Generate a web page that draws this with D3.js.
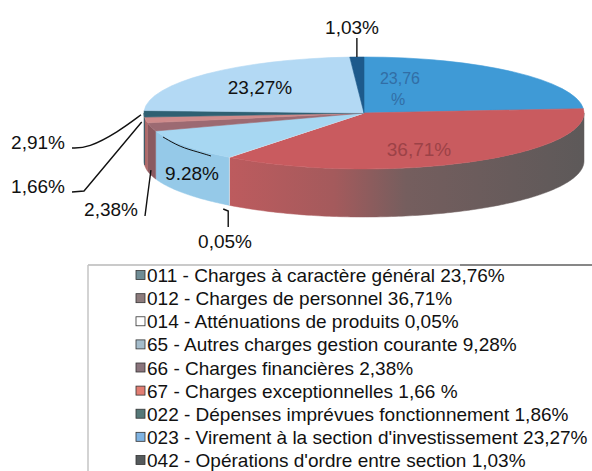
<!DOCTYPE html>
<html>
<head>
<meta charset="utf-8">
<script src="https://cdn.jsdelivr.net/npm/d3@7"></script>
<style>
  html, body { margin: 0; padding: 0; background: #fff; }
  svg { display: block; font-family: "Liberation Sans", Arial, sans-serif; }
</style>
</head>
<body>
<div id="wrapper"></div>
<script>
// chart data
const codes = ["011", "012", "014", "65", "66", "67", "022", "023", "042"];
const names = [
  "Charges à caractère général",
  "Charges de personnel",
  "Atténuations de produits",
  "Autres charges gestion courante",
  "Charges financières",
  "Charges exceptionnelles",
  "Dépenses imprévues fonctionnement",
  "Virement à la section d'investissement",
  "Opérations d'ordre entre section"
];
const values = [23.76, 36.71, 0.05, 9.28, 2.38, 1.66, 1.86, 23.27, 1.03];
const legendValues = ["23,76%", "36,71%", "0,05%", "9,28%", "2,38%", "1,66 %", "1,86%", "23,27%", "1,03%"];
// labels as printed on the pie (some differ from the legend)
const pieLabels = ["23,76\n%", "36,71%", "0,05%", "9.28%", "2,38%", "1,66%", "2,91%", "23,27%", "1,03%"];

const dimensions = { width: 592, height: 471 };
const pie3d = { cx: 364, cy: 113, rx: 220, ry: 56, depth: 48 };

const topColors = ["#3f9ad6", "#c95b5f", "#f4f8fb", "#a7d7f2", "#9c6a72", "#cf8b8b", "#2f6072", "#b3d9f4", "#1d5a8c"];
const wallColors = ["#2f7cb4", "url(#redWall)", "#dde8ee", "#95c9e8", "#8a5a60", "#b06a6a", "#27505f", "#92c0e2", "#174a74"];
const swatchColors = ["#6f8c95", "#8c7b7c", "#ffffff", "#a4bccb", "#8a747c", "#e27d72", "#557878", "#7fb3e2", "#555a5c"];

const svg = d3.select("#wrapper")
  .append("svg")
  .attr("width", dimensions.width)
  .attr("height", dimensions.height);

const defs = svg.append("defs");
const grad = defs.append("linearGradient")
  .attr("id", "redWall")
  .attr("gradientUnits", "userSpaceOnUse")
  .attr("x1", 228).attr("x2", 584).attr("y1", 0).attr("y2", 0);
grad.selectAll("stop")
  .data([[0, "#bd5b5e"], [0.3, "#a45a5c"], [0.5, "#755e5e"], [1, "#5d5959"]])
  .enter().append("stop")
  .attr("offset", d => d[0])
  .attr("stop-color", d => d[1]);

const arcs = d3.pie().sort(null).value(d => d)(values);

// ellipse point for angle measured clockwise from 12 o'clock
const pt = (a, dy = 0) => [pie3d.cx + pie3d.rx * Math.sin(a), pie3d.cy - pie3d.ry * Math.cos(a) + dy];

const bounds = svg.append("g");

// front walls (visible between 3 o'clock and 9 o'clock)
const walls = bounds.append("g");
arcs.forEach((d, i) => {
  const a0 = Math.max(d.startAngle, Math.PI / 2);
  const a1 = Math.min(d.endAngle, Math.PI * 1.5);
  if (a1 <= a0) return;
  const n = Math.max(2, Math.ceil((a1 - a0) * 60));
  const steps = d3.range(n + 1).map(k => a0 + (a1 - a0) * k / n);
  const pts = steps.map(a => pt(a)).concat(steps.slice().reverse().map(a => pt(a, pie3d.depth)));
  walls.append("path")
    .attr("d", d3.line()(pts) + "Z")
    .attr("fill", wallColors[i])
    .attr("stroke", wallColors[i])
    .attr("stroke-width", 0.5);
});

// top faces
const tops = bounds.append("g");
tops.selectAll("path")
  .data(arcs)
  .enter()
  .append("path")
  .attr("d", d => {
    const p0 = pt(d.startAngle), p1 = pt(d.endAngle);
    const large = d.endAngle - d.startAngle > Math.PI ? 1 : 0;
    return `M${pie3d.cx},${pie3d.cy}L${p0[0]},${p0[1]}A${pie3d.rx},${pie3d.ry} 0 ${large} 1 ${p1[0]},${p1[1]}Z`;
  })
  .attr("fill", (d, i) => topColors[i])
  .attr("stroke", (d, i) => topColors[i])
  .attr("stroke-width", 0.6);

// label centres around the pie
const labelLayout = [
  { x: 400, y: 77, color: "#2e5f95", opacity: 0.75 },
  { x: 419, y: 149, color: "#8e3a40", opacity: 0.75 },
  { x: 225, y: 241, color: "#111" },
  { x: 192, y: 173, color: "#111" },
  { x: 111, y: 209, color: "#111" },
  { x: 38, y: 186, color: "#111" },
  { x: 38, y: 142, color: "#111" },
  { x: 260, y: 87, color: "#111" },
  { x: 352, y: 27, color: "#111" }
];

const labels = bounds.append("g")
  .attr("text-anchor", "middle");
pieLabels.forEach((t, i) => {
  const L = labelLayout[i];
  const lines = t.split("\n");
  const txt = labels.append("text")
    .attr("fill", L.color)
    .attr("opacity", L.opacity || 1)
    .attr("font-size", lines.length > 1 ? 16 : 19);
  lines.forEach((s, k) => {
    txt.append("tspan")
      .attr("x", L.x - (k > 0 ? 2 : 0))
      .attr("y", L.y + 7 + k * 21)
      .text(s);
  });
});

// leader lines: from the label to the slice
const leaders = bounds.append("g")
  .attr("fill", "none")
  .attr("stroke", "#111")
  .attr("stroke-width", 1.4);
const leaderLine = d3.line().curve(d3.curveBasis);
const edge = i => pt((arcs[i].startAngle + arcs[i].endAngle) / 2);
const wallEdge = (i, f) => pt((arcs[i].startAngle + arcs[i].endAngle) / 2, pie3d.depth * f);
// 042
leaders.append("path").attr("d", d3.line()([[edge(8)[0], 38], edge(8)]));
// 014
leaders.append("path").attr("d", d3.line()([[wallEdge(2, 1)[0] - 1, 227], [wallEdge(2, 1)[0] - 1, 211], [wallEdge(2, 1)[0] - 6, 209]]));
// 022 (2,91%)
leaders.append("path").attr("d", leaderLine([[72, 148], [88, 148], [118, 132], [edge(6)[0] - 3, edge(6)[1] + 1]]));
// 67 (1,66%)
leaders.append("path").attr("d", d3.line()([[72, 192], [84, 191], [edge(5)[0] - 4, edge(5)[1] + 2]]));
// 66 (2,38%)
leaders.append("path").attr("d", leaderLine([[145, 216], [147, 200], [149, 185], [wallEdge(4, 0.9)[0], wallEdge(4, 0.9)[1]]]));
// 65 (9.28%)
leaders.append("path")
  .attr("stroke-width", 1)
  .attr("d", leaderLine([[163, 137], [180, 147], [198, 152], [211, 156]]));

// legend
const legend = svg.append("g");
legend.append("line")
  .attr("x1", 88).attr("x2", 592).attr("y1", 265).attr("y2", 265)
  .attr("stroke", "#b8b8b8").attr("stroke-width", 1.5);
legend.append("line")
  .attr("x1", 460).attr("x2", 592).attr("y1", 265).attr("y2", 265)
  .attr("stroke", "#444").attr("stroke-width", 1);
legend.append("line")
  .attr("x1", 88).attr("x2", 88).attr("y1", 265).attr("y2", 471)
  .attr("stroke", "#c4c4c4").attr("stroke-width", 1.5);

const rowY = d3.scaleBand().domain(codes).range([264, 472]);
const rows = legend.selectAll("g.row")
  .data(codes)
  .enter()
  .append("g")
  .attr("class", "row")
  .attr("transform", d => `translate(0,${rowY(d) + rowY.bandwidth() / 2})`);
rows.append("rect")
  .attr("x", 136).attr("y", -5)
  .attr("width", 9).attr("height", 9)
  .attr("fill", (d, i) => swatchColors[i])
  .attr("stroke", "#333").attr("stroke-width", 0.8);
rows.append("text")
  .attr("x", 147)
  .attr("y", 6.5)
  .attr("font-size", 19)
  .attr("fill", "#111")
  .text((d, i) => `${d} - ${names[i]} ${legendValues[i]}`);
</script>
</body>
</html>
